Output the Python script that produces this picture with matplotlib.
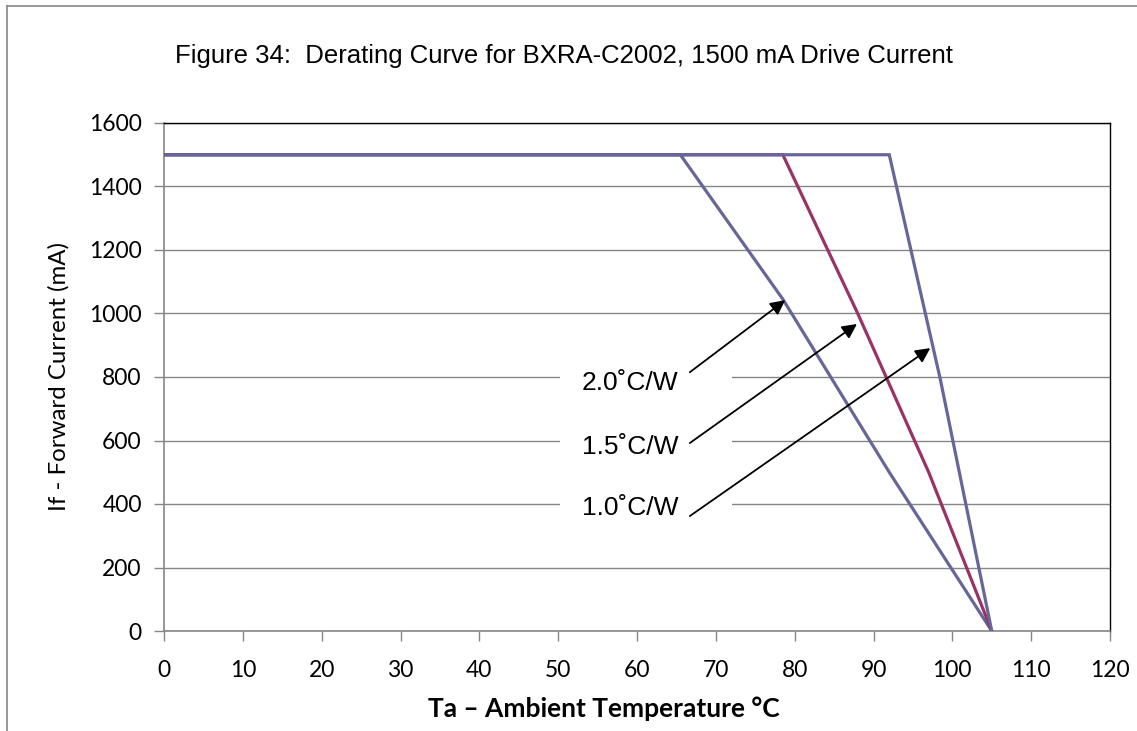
import matplotlib.pyplot as plt
from matplotlib.patches import Rectangle
from matplotlib.lines import Line2D

# derating curves (Ta in degC, If in mA)
ta_20 = [0, 65.5, 78.5, 92, 105]
if_20 = [1500, 1500, 1045, 500, 0]
ta_15 = [0, 78.5, 88, 97, 105]
if_15 = [1500, 1500, 1000, 500, 0]
ta_10 = [0, 92, 98.5, 105]
if_10 = [1500, 1500, 790, 0]

labels = ['2.0˚C/W', '1.5˚C/W', '1.0˚C/W']
label_y = [781, 580, 387]
arrow_tail = [(66.7, 815), (66.7, 592), (66.7, 362)]
arrow_head = [(78.8, 1042), (87.9, 967), (97.2, 891)]

x_ticks = list(range(0, 121, 10))
y_ticks = list(range(0, 1601, 200))

blue = '#666699'
red = '#993366'
grey = '#868686'

fig = plt.figure(figsize=(11.37, 7.31), dpi=100)
ax = fig.add_axes([164 / 1137, 1 - 631 / 731, 946 / 1137, 508 / 731])

ax.plot(ta_20, if_20, color=blue, lw=2.3, zorder=3, solid_joinstyle='miter')
ax.plot(ta_15, if_15, color=red, lw=2.3, zorder=3, solid_joinstyle='miter')
ax.plot(ta_10, if_10, color=blue, lw=2.3, zorder=3, solid_joinstyle='miter')

ax.set_xlim(0, 120)
ax.set_ylim(0, 1600)
ax.set_xticks(x_ticks)
ax.set_yticks(y_ticks)
ax.grid(axis='y', color=grey, lw=1.0)
ax.set_axisbelow(True)
for s in ['left', 'bottom']:
    ax.spines[s].set_color(grey)
    ax.spines[s].set_linewidth(1.2)
for s in ['top', 'right']:
    ax.spines[s].set_color('black')
    ax.spines[s].set_linewidth(1.0)
ax.tick_params(direction='out', length=7, width=1, color=grey)
for lab in ax.get_xticklabels() + ax.get_yticklabels():
    lab.set_family('Lato')
    lab.set_fontsize(16.5)
ax.tick_params(axis='x', pad=14)
ax.tick_params(axis='y', pad=9)

ax.set_xlabel('Ta – Ambient Temperature °C', family='Lato', fontsize=19,
              fontweight='bold')
ax.xaxis.set_label_coords((604 - 164) / 946, -0.128)
ax.set_ylabel('If - Forward Current (mA)', family='Lato', fontsize=17.3, labelpad=14)

# white boxes behind the labels, then text and arrows
for lab, y, tail, head in zip(labels, label_y, arrow_tail, arrow_head):
    ax.add_patch(Rectangle((50.2, y - 30), 21.9, 60, facecolor='white',
                           edgecolor='none', zorder=2))
    ax.text(53.0, y, lab, family='Liberation Sans', fontsize=19,
            ha='left', va='center', zorder=4)
    ax.annotate('', xy=head, xytext=tail, zorder=5,
                arrowprops=dict(arrowstyle='-|>', color='black', lw=1.3,
                                mutation_scale=22, shrinkA=0, shrinkB=0))

fig.text(564 / 1137, 1 - 56 / 731,
         'Figure 34:  Derating Curve for BXRA-C2002, 1500 mA Drive Current',
         family='Liberation Sans', fontsize=18.5, ha='center', va='center')

# outer frame (left and top edges)
fig.add_artist(Line2D([7 / 1137, 7 / 1137], [0, 1 - 6 / 731], color=grey, lw=1.2))
fig.add_artist(Line2D([7 / 1137, 1], [1 - 6 / 731, 1 - 6 / 731], color=grey, lw=1.2))

fig.savefig('out.png', dpi=100)
